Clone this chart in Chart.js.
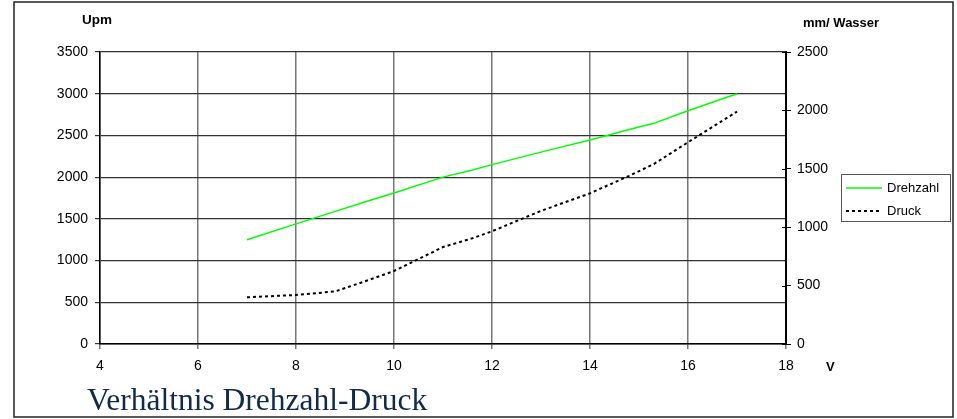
<!DOCTYPE html>
<html lang="de">
<head>
    <meta charset="UTF-8">
    <title>Verhältnis Drehzahl-Druck</title>
    <script src="https://cdn.jsdelivr.net/npm/chart.js"></script>
    <style>
        body { margin: 0; background: #fff; }
        canvas { display: block; }
    </style>
</head>
<body>
    <canvas id="myChart" width="957" height="419"></canvas>
    <script>
        const volt = [7, 8, 8.8, 9.5, 10, 11, 11.6, 12, 13, 14, 14.8, 15.3, 16, 17];
        const drehzahl = [1250, 1440, 1590, 1720, 1810, 2000, 2085, 2150, 2300, 2445, 2570, 2645, 2795, 3000];
        const druck = [400, 420, 450, 550, 625, 830, 905, 965, 1140, 1290, 1440, 1540, 1727, 1990];

        const seriesNames = ['Drehzahl', 'Druck'];
        const xTicks = [4, 6, 8, 10, 12, 14, 16, 18];
        const leftTicks = [0, 500, 1000, 1500, 2000, 2500, 3000, 3500];
        const rightTicks = [0, 500, 1000, 1500, 2000, 2500];

        const titleText = 'Verhältnis Drehzahl-Druck';
        const leftAxisTitle = 'Upm';
        const rightAxisTitle = 'mm/ Wasser';
        const xAxisTitle = 'V';

        const sans = '"Liberation Sans", Arial, sans-serif';
        const plain = v => String(v);

        // Rahmen, Achsentitel, Legende und Überschrift
        const extras = {
            id: 'extras',
            beforeDraw(chart) {
                const ctx = chart.ctx;
                ctx.save();
                ctx.fillStyle = '#fff';
                ctx.fillRect(0, 0, chart.width, chart.height);
                ctx.restore();
            },
            afterDraw(chart) {
                const ctx = chart.ctx;
                const area = chart.chartArea;
                const y1 = chart.scales.y1;
                ctx.save();

                // äußerer Rahmen
                ctx.strokeStyle = '#222';
                ctx.lineWidth = 1.5;
                ctx.strokeRect(14, 2, 939, 415);

                // Teilstriche der rechten Achse nach innen
                ctx.strokeStyle = '#000';
                ctx.lineWidth = 1;
                rightTicks.forEach(v => {
                    const py = Math.round(y1.getPixelForValue(v)) + 0.5;
                    ctx.beginPath();
                    ctx.moveTo(area.right - 4, py);
                    ctx.lineTo(area.right, py);
                    ctx.stroke();
                });

                // Achsentitel
                ctx.fillStyle = '#000';
                ctx.font = 'bold 13.5px ' + sans;
                ctx.textBaseline = 'middle';
                ctx.textAlign = 'left';
                ctx.fillText(leftAxisTitle, 82, 20);
                ctx.font = 'bold 13px ' + sans;
                ctx.fillText(rightAxisTitle, 803, 23);
                ctx.fillText(xAxisTitle, 826, 367);

                // Legende
                ctx.strokeStyle = '#555';
                ctx.lineWidth = 1;
                ctx.strokeRect(841.5, 174.5, 109, 47);
                ctx.font = '13px ' + sans;
                chart.data.datasets.forEach((ds, i) => {
                    const ly = 188 + i * 23;
                    ctx.strokeStyle = ds.borderColor;
                    ctx.lineWidth = ds.borderWidth;
                    ctx.setLineDash(ds.borderDash || []);
                    ctx.beginPath();
                    ctx.moveTo(846, ly);
                    ctx.lineTo(882, ly);
                    ctx.stroke();
                    ctx.setLineDash([]);
                    ctx.fillStyle = '#000';
                    ctx.fillText(ds.label, 887, ly);
                });

                // Überschrift unten
                ctx.fillStyle = '#0e2a50';
                ctx.font = '31.5px "Liberation Serif", "Times New Roman", serif';
                ctx.textBaseline = 'alphabetic';
                ctx.fillText(titleText, 87, 410);

                ctx.restore();
            }
        };

        const ctx = document.getElementById('myChart').getContext('2d');
        const myChart = new Chart(ctx, {
            type: 'line',
            data: {
                datasets: [{
                    label: seriesNames[0],
                    data: volt.map((v, i) => ({ x: v, y: drehzahl[i] })),
                    borderColor: '#00ff00',
                    borderWidth: 1.5,
                    pointRadius: 0,
                    tension: 0,
                    fill: false,
                    yAxisID: 'y'
                }, {
                    label: seriesNames[1],
                    data: volt.map((v, i) => ({ x: v, y: druck[i] })),
                    borderColor: '#000',
                    borderWidth: 2,
                    borderDash: [3, 3],
                    pointRadius: 0,
                    tension: 0,
                    fill: false,
                    yAxisID: 'y1'
                }]
            },
            options: {
                responsive: false,
                animation: false,
                devicePixelRatio: 1,
                layout: { padding: { top: 52, left: 0, right: 0, bottom: 0 } },
                plugins: {
                    legend: { display: false },
                    title: { display: false },
                    tooltip: { enabled: false }
                },
                scales: {
                    x: {
                        type: 'linear',
                        min: xTicks[0],
                        max: xTicks[xTicks.length - 1],
                        afterBuildTicks: s => { s.ticks = xTicks.map(v => ({ value: v })); },
                        afterFit: s => { s.height = 75; },
                        grid: { color: '#777', lineWidth: 1.5, tickLength: 5 },
                        border: { color: '#000', width: 1.5 },
                        ticks: { color: '#000', font: { family: sans, size: 14 }, padding: 9, maxRotation: 0, callback: plain }
                    },
                    y: {
                        position: 'left',
                        min: leftTicks[0],
                        max: leftTicks[leftTicks.length - 1],
                        afterBuildTicks: s => { s.ticks = leftTicks.map(v => ({ value: v })); },
                        afterFit: s => { s.width = 100; },
                        grid: { color: '#333', lineWidth: 1.2, tickLength: 5 },
                        border: { color: '#000', width: 1.5 },
                        ticks: { color: '#000', font: { family: sans, size: 14 }, padding: 7, callback: plain }
                    },
                    y1: {
                        position: 'right',
                        min: rightTicks[0],
                        max: rightTicks[rightTicks.length - 1],
                        afterBuildTicks: s => { s.ticks = rightTicks.map(v => ({ value: v })); },
                        afterFit: s => { s.width = 171; },
                        grid: { drawOnChartArea: false, color: '#000', lineWidth: 1, tickLength: 5 },
                        border: { color: '#000', width: 2 },
                        ticks: { color: '#000', font: { family: sans, size: 14 }, padding: 6, callback: plain }
                    }
                }
            },
            plugins: [extras]
        });
    </script>
</body>
</html>
